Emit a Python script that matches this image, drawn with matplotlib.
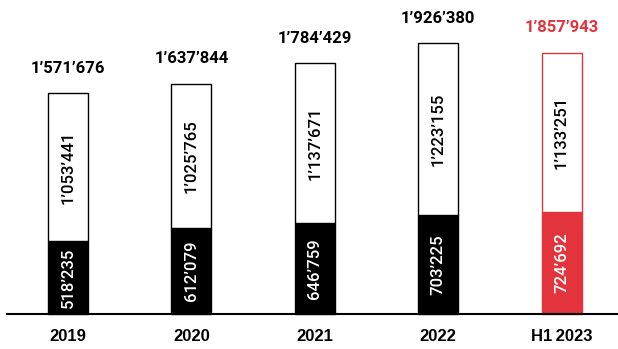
import matplotlib
matplotlib.use("Agg")
import matplotlib.pyplot as plt

categories = ["2019", "2020", "2021", "2022", "H1 2023"]
base_values = [518235, 612079, 646759, 703225, 724692]
upper_values = [1053441, 1025765, 1137671, 1223155, 1133251]
totals = [1571676, 1637844, 1784429, 1926380, 1857943]

RED = "#e3343d"
colors = ["black", "black", "black", "black", RED]


def fmt(v):
    return f"{v:,}".replace(",", "\u2019")


plt.rcParams["font.family"] = ["Liberation Sans", "DejaVu Sans"]

fig = plt.figure(figsize=(6.18, 3.49), dpi=100)
ax = fig.add_axes([0, 0, 1, 1])

px_per_unit = 1 / 7114.0  # pixels per value unit
spacing = 123.4
x0 = 68.0
width = 40 / spacing

xs = list(range(len(categories)))
ax.set_xlim(-x0 / spacing, (618 - x0) / spacing)
ax.set_ylim(-35 / px_per_unit, 314 / px_per_unit)

inner_font = dict(family=["Roboto", "Liberation Sans"], fontweight="medium",
                  fontsize=12)
total_font = dict(family=["Roboto", "Liberation Sans"], fontweight="bold",
                  fontsize=12)

for x, b, u, t, c in zip(xs, base_values, upper_values, totals, colors):
    ax.bar(x, b, width=width, color=c, edgecolor=c, linewidth=1.0, zorder=2)
    ax.bar(x, u, bottom=b, width=width, color="white", edgecolor=c,
           linewidth=1.0, zorder=2)
    ax.text(x, b / 2, fmt(b), rotation=90, ha="center", va="center",
            color="white", zorder=3, **inner_font)
    ax.text(x, b + u / 2, fmt(u), rotation=90, ha="center", va="center",
            color="black", zorder=3, **inner_font)
    ax.annotate(fmt(t), (x, b + u), xytext=(0, 18), textcoords="offset points",
                ha="center", va="center",
                color=("black" if c == "black" else RED), **total_font)
    ax.annotate(categories[x].replace(" ", "\u2009"), (x, 0), xytext=(0, -16.5),
                textcoords="offset points", ha="center", va="center",
                fontsize=12, fontweight="bold", color="black")

ax.axhline(0, xmin=7 / 618, xmax=1, color="black", linewidth=1.5, zorder=4)
ax.axis("off")

fig.savefig("out.png", dpi=100)
